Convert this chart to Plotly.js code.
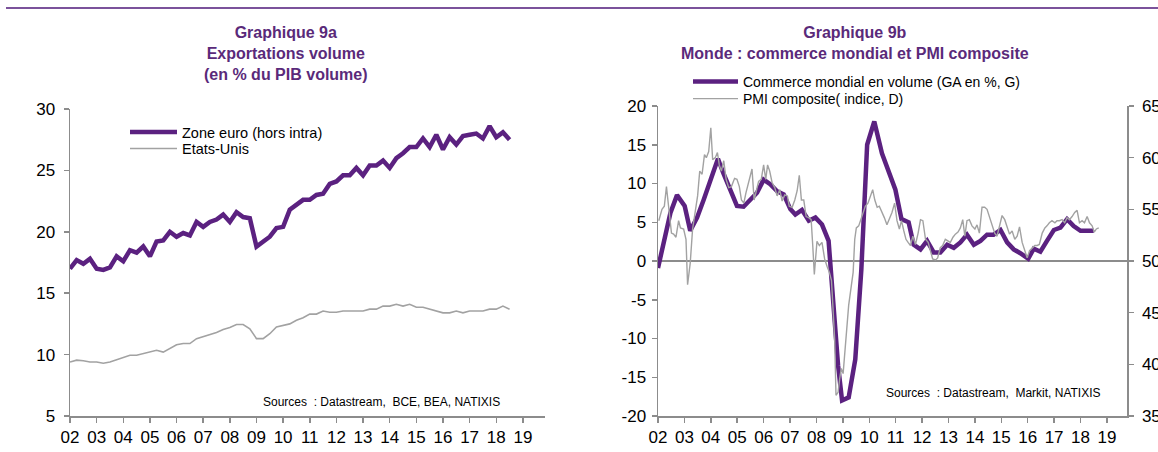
<!DOCTYPE html>
<html><head><meta charset="utf-8">
<script src="https://cdn.plot.ly/plotly-3.0.1.min.js"></script>
<style>html,body{margin:0;padding:0;background:#fff;}#chart{width:1158px;height:452px;}</style>
</head><body><div id="chart"></div>
<script>
// ---- Graphique 9a : exportations en volume (% du PIB volume), quarterly from 2002Q1
const quarterStart = 2002;
const ezExports = [17.0,17.7,17.4,17.8,17.0,16.9,17.1,18.0,17.6,18.5,
  18.3,18.8,18.0,19.2,19.3,20.0,19.6,19.9,19.7,20.8,
  20.4,20.8,21.0,21.4,20.8,21.6,21.2,21.1,18.8,19.2,
  19.6,20.3,20.4,21.8,22.2,22.6,22.6,23.0,23.1,23.9,
  24.1,24.6,24.6,25.2,24.6,25.4,25.4,25.8,25.2,26.0,
  26.4,26.9,26.9,27.6,26.9,27.9,26.7,27.7,27.1,27.8,
  27.9,28.0,27.6,28.6,27.7,28.1,27.5];
const usExports = [9.4,9.55,9.5,9.4,9.4,9.3,9.4,9.6,9.8,9.95,
  9.95,10.1,10.2,10.35,10.2,10.5,10.8,10.9,10.9,11.3,
  11.45,11.6,11.8,12.05,12.2,12.45,12.45,12.1,11.3,11.3,
  11.7,12.25,12.4,12.5,12.8,13.0,13.3,13.3,13.55,13.45,
  13.45,13.55,13.55,13.55,13.55,13.7,13.7,13.95,13.95,14.1,
  13.95,14.1,13.85,13.85,13.7,13.55,13.4,13.4,13.55,13.4,
  13.55,13.55,13.55,13.7,13.7,13.95,13.7];

// ---- Graphique 9b : commerce mondial (GA en %) et PMI composite (indice)
const tradeDates = [2002.00,2002.21,2002.47,2002.72,2003.01,2003.22,2003.48,2003.73,2003.98,2004.27,
  2004.49,2004.74,2004.99,2005.24,2005.50,2005.75,2006.00,2006.25,2006.51,2006.76,
  2007.01,2007.20,2007.45,2007.71,2007.96,2008.21,2008.46,2008.65,2008.82,2008.97,
  2009.22,2009.47,2009.70,2009.92,2010.19,2010.48,2010.74,2010.99,2011.22,2011.37,
  2011.49,2011.68,2011.94,2012.19,2012.44,2012.69,2012.95,2013.20,2013.45,2013.70,
  2013.96,2014.21,2014.46,2014.71,2014.97,2015.22,2015.47,2015.72,2016.02,2016.23,
  2016.48,2016.73,2016.99,2017.24,2017.49,2017.74,2018.00,2018.25,2018.50];
const tradeValues = [-0.9,2.4,6.2,8.5,7.1,3.9,5.6,7.9,10.5,13.2,
  11.2,9.2,7.1,7.0,7.9,8.8,10.5,9.9,9.0,8.6,
  6.7,6.0,6.6,5.2,5.6,4.7,2.6,-5.8,-13.5,-18.0,
  -17.6,-12.7,-1.1,15.0,18.0,13.9,11.6,9.2,5.4,5.2,
  5.0,2.1,1.5,2.6,1.1,1.1,2.1,1.7,2.4,3.4,
  2.1,2.6,3.4,3.4,4.0,2.4,1.5,1.0,0.3,1.6,
  1.2,2.6,4.0,4.3,5.4,4.5,3.9,3.9,3.9];
const pmiDates = [2002.03,2002.15,2002.24,2002.32,2002.40,2002.51,2002.59,2002.68,2002.78,2002.85,
  2002.97,2003.06,2003.12,2003.22,2003.31,2003.41,2003.50,2003.58,2003.67,2003.76,
  2003.83,2003.92,2004.00,2004.07,2004.17,2004.25,2004.32,2004.40,2004.49,2004.58,
  2004.68,2004.78,2004.90,2004.99,2005.08,2005.16,2005.25,2005.33,2005.46,2005.56,
  2005.64,2005.72,2005.81,2005.91,2006.00,2006.08,2006.15,2006.23,2006.32,2006.42,
  2006.51,2006.61,2006.70,2006.80,2006.90,2006.97,2007.08,2007.18,2007.27,2007.35,
  2007.43,2007.52,2007.61,2007.71,2007.80,2007.86,2007.92,2008.02,2008.11,2008.21,
  2008.31,2008.40,2008.49,2008.57,2008.63,2008.69,2008.74,2008.82,2008.88,2008.94,
  2009.01,2009.07,2009.15,2009.22,2009.32,2009.39,2009.45,2009.51,2009.60,2009.68,
  2009.75,2009.85,2009.95,2010.04,2010.13,2010.21,2010.30,2010.38,2010.48,2010.57,
  2010.67,2010.76,2010.86,2010.96,2011.05,2011.14,2011.22,2011.31,2011.39,2011.47,
  2011.56,2011.65,2011.75,2011.85,2011.94,2012.03,2012.13,2012.23,2012.32,2012.40,
  2012.51,2012.59,2012.69,2012.78,2012.88,2012.98,2013.07,2013.17,2013.26,2013.36,
  2013.45,2013.54,2013.62,2013.70,2013.79,2013.89,2014.00,2014.08,2014.17,2014.27,
  2014.37,2014.46,2014.55,2014.65,2014.75,2014.84,2014.93,2015.03,2015.13,2015.22,
  2015.31,2015.41,2015.51,2015.60,2015.69,2015.79,2015.89,2015.98,2016.07,2016.17,
  2016.27,2016.36,2016.44,2016.55,2016.65,2016.73,2016.82,2016.92,2017.03,2017.11,
  2017.20,2017.30,2017.40,2017.49,2017.58,2017.68,2017.78,2017.87,2017.96,2018.06,
  2018.15,2018.25,2018.34,2018.44,2018.52,2018.60,2018.69];
const pmiValues = [53.9,55.0,55.3,57.2,55.3,52.7,52.6,52.3,53.9,53.2,
  53.1,52.1,47.7,49.8,53.1,54.7,56.3,58.7,58.4,60.3,
  60.0,60.6,62.9,59.8,60.0,60.5,59.3,58.7,59.7,57.9,
  57.1,57.2,58.0,57.9,57.2,55.9,55.6,56.6,57.9,58.9,
  55.9,56.9,57.7,57.9,59.3,57.9,59.3,58.7,57.6,57.1,
  56.3,56.9,55.8,56.4,56.3,55.3,55.2,55.9,56.8,58.3,
  55.9,55.9,54.3,54.2,54.0,51.5,48.7,51.9,51.5,51.8,
  50.2,49.5,48.9,48.1,45.7,42.4,37.0,37.3,38.6,39.6,
  39.1,40.8,43.7,45.7,47.6,48.9,52.1,53.2,53.4,54.0,
  54.7,55.3,55.6,56.3,56.9,55.9,55.2,55.3,54.8,54.2,
  53.5,54.0,54.7,55.6,53.9,53.1,53.9,52.9,52.1,51.8,
  51.5,52.4,51.6,52.7,54.0,53.9,52.1,51.8,50.8,50.2,
  50.1,50.3,51.3,51.5,52.1,51.9,51.8,52.3,52.6,52.8,
  53.2,54.0,52.4,53.9,54.0,53.4,53.1,53.5,52.7,55.2,
  55.2,55.0,54.3,53.4,52.7,52.4,53.5,54.4,54.0,53.4,
  52.6,52.9,52.1,52.4,53.3,51.8,51.1,50.3,51.0,51.3,
  51.5,51.5,51.6,52.7,53.2,53.4,53.7,53.9,53.7,53.9,
  53.9,54.0,53.7,54.2,54.0,54.3,54.7,54.9,53.7,53.9,
  53.7,54.3,53.7,53.4,52.8,53.1,53.2];

const yearTicks = [2002,2003,2004,2005,2006,2007,2008,2009,2010,2011,2012,2013,2014,2015,2016,2017,2018,2019];
const yearLabels = ["02","03","04","05","06","07","08","09","10","11","12","13","14","15","16","17","18","19"];
const tradeTicks = [-20,-15,-10,-5,0,5,10,15,20];
const tradeTickLabels = ["-20","-15","-10","-5","0","5","10","15","20"];

const PURPLE = '#5b2180';
const TITLE = '#5a2a7a';
const GREY = '#a2a2a2';
const AXIS = '#8c8c8c';
const FONT = 'Liberation Sans, Arial, sans-serif';

const quarterX = ezExports.map((_, i) => quarterStart + i / 4);

const traces = [
  {x: quarterX, y: ezExports, type: 'scatter', mode: 'lines', name: 'Zone euro (hors intra)',
   line: {color: PURPLE, width: 4.5}, xaxis: 'x', yaxis: 'y', legend: 'legend'},
  {x: quarterX, y: usExports, type: 'scatter', mode: 'lines', name: 'Etats-Unis',
   line: {color: GREY, width: 1.6}, xaxis: 'x', yaxis: 'y', legend: 'legend2'},
  {x: tradeDates, y: tradeValues, type: 'scatter', mode: 'lines', name: 'Commerce mondial en volume (GA en %, G)',
   line: {color: PURPLE, width: 4.5}, xaxis: 'x2', yaxis: 'y3', legend: 'legend3'},
  {x: pmiDates, y: pmiValues, type: 'scatter', mode: 'lines', name: 'PMI composite( indice, D)',
   line: {color: GREY, width: 1.4}, xaxis: 'x2', yaxis: 'y4', legend: 'legend4'}
];

const H = 452, W = 1158;
const px = v => v / W;
const py = v => 1 - v / H;

const tickFont = {family: FONT, size: 17, color: '#000'};
const xCommon = {
  tickmode: 'array', tickvals: yearTicks, ticktext: yearLabels,
  ticks: 'outside', ticklen: 5, tickwidth: 1.5, tickcolor: AXIS,
  showline: true, linecolor: AXIS, linewidth: 1.5, showgrid: false, zeroline: false,
  tickfont: tickFont, fixedrange: true
};
const yCommon = {
  dtick: 5, tick0: 0, ticks: 'outside', ticklen: 5, tickwidth: 1.5, tickcolor: AXIS,
  showline: true, linecolor: AXIS, linewidth: 1.5, showgrid: false, zeroline: false,
  tickfont: tickFont, fixedrange: true
};
const legendBase = (x, yc, size, iw) => ({x: px(x), y: py(yc), xanchor: 'left', yanchor: 'middle',
  bgcolor: 'rgba(0,0,0,0)', font: {family: FONT, size: size, color: '#000'}, itemwidth: iw, tracegroupgap: 0});

const layout = {
  width: W, height: H,
  margin: {l: 0, r: 0, t: 0, b: 0},
  paper_bgcolor: '#fff', plot_bgcolor: 'rgba(0,0,0,0)',
  font: {family: FONT, color: '#000'},
  showlegend: true,
  xaxis: Object.assign({}, xCommon, {domain: [px(70), px(545)], range: [2002, 2019.83], anchor: 'y'}),
  yaxis: Object.assign({}, yCommon, {domain: [py(416), py(109)], range: [5, 30], anchor: 'x', ticklabelstandoff: 5}),
  yaxis2: Object.assign({}, yCommon, {overlaying: 'y', side: 'right', range: [5, 30], anchor: 'x', ticklabelstandoff: 6}),
  xaxis2: Object.assign({}, xCommon, {domain: [px(658), px(1127)], range: [2002, 2019.76], anchor: 'y3'}),
  yaxis3: Object.assign({}, yCommon, {domain: [py(416), py(106)], range: [-20, 20], anchor: 'x2',
    tickmode: 'array', tickvals: tradeTicks, ticktext: tradeTickLabels,
    zeroline: true, zerolinecolor: AXIS, zerolinewidth: 1.5, ticklabelstandoff: 2}),
  yaxis4: Object.assign({}, yCommon, {overlaying: 'y3', side: 'right', range: [35, 65], anchor: 'x2', ticklabelstandoff: 5}),
  legend: legendBase(125, 132, 14.5, 47),
  legend2: legendBase(125, 148.5, 14.5, 47),
  legend3: legendBase(688, 82, 14, 45),
  legend4: legendBase(688, 99, 14, 45),
  shapes: [
    {type: 'line', xref: 'paper', yref: 'paper', x0: px(6), x1: 1, y0: py(8), y1: py(8),
     line: {color: '#7b529b', width: 2}}
  ],
  annotations: [
    {text: 'Graphique 9a<br>Exportations volume<br>(en % du PIB volume)', xref: 'paper', yref: 'paper',
     x: px(286), y: py(22), xanchor: 'center', yanchor: 'top', showarrow: false,
     font: {family: FONT, size: 16, color: TITLE, weight: 'bold'}},
    {text: 'Graphique 9b<br>Monde : commerce mondial et PMI composite', xref: 'paper', yref: 'paper',
     x: px(855), y: py(22), xanchor: 'center', yanchor: 'top', showarrow: false,
     font: {family: FONT, size: 16, color: TITLE, weight: 'bold'}},
    {text: 'Sources  : Datastream,  BCE, BEA, NATIXIS', xref: 'paper', yref: 'paper',
     x: px(502), y: py(402), xanchor: 'right', yanchor: 'middle', showarrow: false,
     font: {family: FONT, size: 12, color: '#000'}},
    {text: 'Sources  : Datastream,  Markit, NATIXIS', xref: 'paper', yref: 'paper',
     x: px(1103), y: py(393), xanchor: 'right', yanchor: 'middle', showarrow: false,
     font: {family: FONT, size: 12, color: '#000'}}
  ]
};

Plotly.newPlot('chart', traces, layout, {displayModeBar: false, staticPlot: true});
</script>
</body></html>
